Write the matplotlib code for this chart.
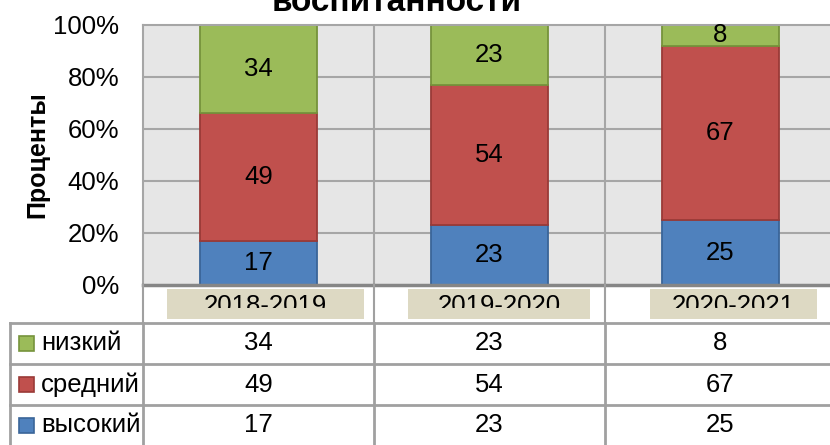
import matplotlib
matplotlib.use("Agg")
import matplotlib.pyplot as plt
from matplotlib.patches import Rectangle
from matplotlib.lines import Line2D
from matplotlib.transforms import Bbox, TransformedBbox

plt.rcParams['font.family'] = ['Liberation Sans Narrow', 'Liberation Sans', 'DejaVu Sans']

# ---- data ----
categories = ['2018-2019', '2019-2020', '2020-2021']
series_names = ['высокий', 'средний', 'низкий']
high = [17, 23, 25]
mid = [49, 54, 67]
low = [34, 23, 8]
yticks = [0, 20, 40, 60, 80, 100]
title = 'воспитанности'
ylabel = 'Проценты'

colors = {'высокий': '#4f81bd', 'средний': '#c0504d', 'низкий': '#9bbb59'}
edges = {'высокий': '#3a6598', 'средний': '#9a3a37', 'низкий': '#76933c'}
values = {'высокий': high, 'средний': mid, 'низкий': low}

W, H = 830, 445
fig = plt.figure(figsize=(W / 100, H / 100), dpi=100)

def fx(px):
    return px / W

def fy(py):
    return 1 - py / H

PL, CW = 143, 231          # plot left px, category width px
PT, PB = 25, 285           # plot top/bottom px
ncat = len(categories)
FS = 18.5

ax = fig.add_axes([fx(PL), fy(PB), ncat * CW / W, (PB - PT) / H])
ax.set_facecolor('#e6e6e6')
ax.set_xlim(-0.5, ncat - 0.5)
ax.set_ylim(0, 100)
grid_c = '#a6a6a6'
for yv in yticks[1:-1]:
    ax.axhline(yv, color=grid_c, lw=1.5, zorder=0.5)
for i in range(ncat - 1):
    ax.axvline(i + 0.5, color=grid_c, lw=1.5, zorder=0.5)

xs = list(range(ncat))
bottom = [0] * ncat
for name in series_names:
    vals = values[name]
    ax.bar(xs, vals, width=0.506, bottom=bottom, color=colors[name],
           edgecolor=edges[name], lw=1.3, zorder=2)
    for i, v in enumerate(vals):
        ax.text(i, bottom[i] + v / 2, str(v), ha='center', va='center',
                fontsize=FS, color='black', zorder=3)
    bottom = [b + v for b, v in zip(bottom, vals)]

ax.set_xticks([])
ax.set_yticks(yticks)
ax.set_yticklabels([f'{t}%' for t in yticks], fontsize=FS)
ax.tick_params(axis='y', length=0, pad=17)
for s in ['top', 'left', 'right']:
    ax.spines[s].set_color(grid_c)
    ax.spines[s].set_linewidth(1.5)
ax.spines['bottom'].set_color('#868686')
ax.spines['bottom'].set_linewidth(2.5)
ax.spines['bottom'].set_zorder(4)

fig.text(fx(37), fy(155), ylabel, rotation=90, ha='center', va='center',
         fontsize=18, fontweight='bold')

# title (clipped by the top of the picture, as in the source)
fig.text(fx(397), fy(11), title, ha='center', va='baseline',
         fontsize=24, fontweight='bold')

# ---- overlay for category band and table (pixel coords) ----
ov = fig.add_axes([0, 0, 1, 1], facecolor='none')
ov.set_xlim(0, W)
ov.set_ylim(H, 0)
ov.axis('off')

line_c = '#a0a0a0'
TT = 323                   # table top
RH = 41                    # row height
TL = 10                    # table left
col_edges = [PL + i * CW for i in range(ncat + 1)]

for xe in col_edges:
    ov.add_line(Line2D([xe, xe], [PB, TT], color=line_c, lw=1.5))

box_offsets = [(-91.5, 105.5), (-81.5, 100.5), (-70.5, 96.5)]
for i, cat in enumerate(categories):
    cx = PL + (i + 0.5) * CW
    l, r = box_offsets[i]
    ov.add_patch(Rectangle((cx + l, 289), r - l, 30, facecolor='#ddd9c3',
                           edgecolor='none'))
    t = ov.text(cx + (l + r) / 2, 313, cat, ha='center', va='baseline',
                fontsize=FS, color='black')
    t.set_clip_box(TransformedBbox(Bbox([[0, 285], [W, 308]]), ov.transData))
    t.set_clip_on(True)

rows = ['низкий', 'средний', 'высокий']
nrow = len(rows)
for k in range(nrow + 1):
    yv = TT + k * RH
    ov.add_line(Line2D([TL, W], [yv, yv], color=line_c, lw=2))
for xe in [TL] + col_edges:
    ov.add_line(Line2D([xe, xe], [TT, H], color=line_c, lw=2))

for k, name in enumerate(rows):
    yc = TT + k * RH + RH / 2
    ov.add_patch(Rectangle((19, yc - 7.5), 15, 15, facecolor=colors[name],
                           edgecolor=edges[name], lw=1.2))
    ov.text(41, yc, name, ha='left', va='center', fontsize=FS)
    for i, v in enumerate(values[name]):
        cx = PL + (i + 0.5) * CW
        ov.text(cx, yc, str(v), ha='center', va='center', fontsize=FS)

fig.savefig('out.png', dpi=100)
